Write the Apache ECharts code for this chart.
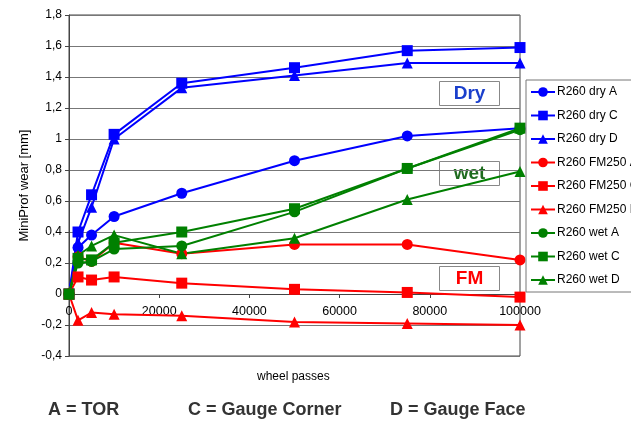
<!DOCTYPE html>
<html>
<head>
<meta charset="utf-8">
<script src="https://cdn.jsdelivr.net/npm/echarts@6/dist/echarts.min.js"></script>
<style>
  html, body { margin: 0; padding: 0; background: #fff; }
  #chart { width: 631px; height: 421px; }
</style>
</head>
<body>
<div id="chart"></div>
<script>
// wheel passes
const passes = [0, 2000, 5000, 10000, 25000, 50000, 75000, 100000];

const dryA = [0, 0.30, 0.38, 0.50, 0.65, 0.86, 1.02, 1.07];
const dryC = [0, 0.40, 0.64, 1.03, 1.36, 1.46, 1.57, 1.59];
const dryD = [0, 0.33, 0.56, 1.00, 1.33, 1.41, 1.49, 1.49];
const fmA = [0, 0.24, 0.21, 0.33, 0.26, 0.32, 0.32, 0.22];
const fmC = [0, 0.11, 0.09, 0.11, 0.07, 0.03, 0.01, -0.02];
const fmD = [0, -0.17, -0.12, -0.13, -0.14, -0.18, -0.19, -0.20];
const wetA = [0, 0.20, 0.21, 0.29, 0.31, 0.53, 0.81, 1.06];
const wetC = [0, 0.23, 0.22, 0.33, 0.40, 0.55, 0.81, 1.07];
const wetD = [0, 0.25, 0.31, 0.38, 0.26, 0.36, 0.61, 0.79];

const BLUE = '#0000ff', RED = '#ff0000', GREEN = '#008000';

const mk = (name, vals, color, symbol) => ({
  name: name,
  type: 'line',
  data: passes.map((p, i) => [p, vals[i]]),
  symbol: symbol,
  symbolSize: 11,
  lineStyle: { color: color, width: 2 },
  itemStyle: { color: color },
  emphasis: { disabled: true }
});

const series = [
  mk('R260 dry A', dryA, BLUE, 'circle'),
  mk('R260 dry C', dryC, BLUE, 'rect'),
  mk('R260 dry D', dryD, BLUE, 'triangle'),
  mk('R260 FM250 A', fmA, RED, 'circle'),
  mk('R260 FM250 C', fmC, RED, 'rect'),
  mk('R260 FM250 D', fmD, RED, 'triangle'),
  mk('R260 wet A', wetA, GREEN, 'circle'),
  mk('R260 wet C', wetC, GREEN, 'rect'),
  mk('R260 wet D', wetD, GREEN, 'triangle')
];

const tag = (text, top, color) => ({
  type: 'group',
  left: 439,
  top: top,
  children: [
    { type: 'rect', shape: { x: 0, y: 0, width: 60, height: 24 },
      style: { fill: '#fff', stroke: '#888', lineWidth: 1 } },
    { type: 'text', x: 30, y: 12,
      style: { text: text, fill: color, font: 'bold 19px "Liberation Sans", Arial, sans-serif',
               textAlign: 'center', textVerticalAlign: 'middle' } }
  ]
});

const chart = echarts.init(document.getElementById('chart'));
chart.setOption({
  animation: false,
  backgroundColor: '#fff',
  textStyle: { fontFamily: '"Liberation Sans", Arial, sans-serif' },
  grid: {
    left: 69, right: 111, top: 15, bottom: 65,
    show: true, borderColor: '#444', borderWidth: 1
  },
  legend: {
    orient: 'vertical',
    left: 526,
    top: 80,
    padding: [6, 60, 6, 4],
    itemWidth: 24,
    itemHeight: 12,
    itemGap: 11.5,
    borderColor: '#777',
    borderWidth: 1,
    textStyle: { fontSize: 12, color: '#000', padding: [0, 0, 0, -3] }
  },
  xAxis: {
    type: 'value',
    min: 0,
    max: 100000,
    interval: 20000,
    // axis sits on y = 0 (62 px above the grid bottom)
    offset: -62,
    axisLine: { onZero: false, lineStyle: { color: '#444' } },
    axisTick: { show: true, length: 4, lineStyle: { color: '#444' } },
    axisLabel: { color: '#000', fontSize: 12.5, margin: 11, formatter: v => String(v) },
    splitLine: { show: false }
  },
  yAxis: {
    type: 'value',
    min: -0.4,
    max: 1.8,
    interval: 0.2,
    name: 'MiniProf wear [mm]',
    nameLocation: 'middle',
    nameGap: 36,
    nameTextStyle: { color: '#000', fontSize: 13 },
    axisLine: { show: true, lineStyle: { color: '#444' } },
    axisTick: { show: true, length: 4, lineStyle: { color: '#444' } },
    axisLabel: {
      color: '#000', fontSize: 12, margin: 7,
      formatter: v => String(Math.round(v * 10) / 10).replace('.', ',')
    },
    splitLine: { show: true, lineStyle: { color: '#777', width: 1 } }
  },
  graphic: [
    tag('Dry', 81, '#1a3fcc'),
    tag('wet', 161, '#1e6b1e'),
    tag('FM', 266, RED),
    { type: 'text', left: 257, top: 371,
      style: { text: 'wheel passes', fill: '#000', font: '12px "Liberation Sans", Arial, sans-serif' } },
    { type: 'text', left: 48, top: 401,
      style: { text: 'A = TOR', fill: '#333', font: 'bold 18px "Liberation Sans", Arial, sans-serif' } },
    { type: 'text', left: 188, top: 401,
      style: { text: 'C = Gauge Corner', fill: '#333', font: 'bold 18px "Liberation Sans", Arial, sans-serif' } },
    { type: 'text', left: 390, top: 401,
      style: { text: 'D = Gauge Face', fill: '#333', font: 'bold 18px "Liberation Sans", Arial, sans-serif' } }
  ],
  series: series
});
</script>
</body>
</html>
